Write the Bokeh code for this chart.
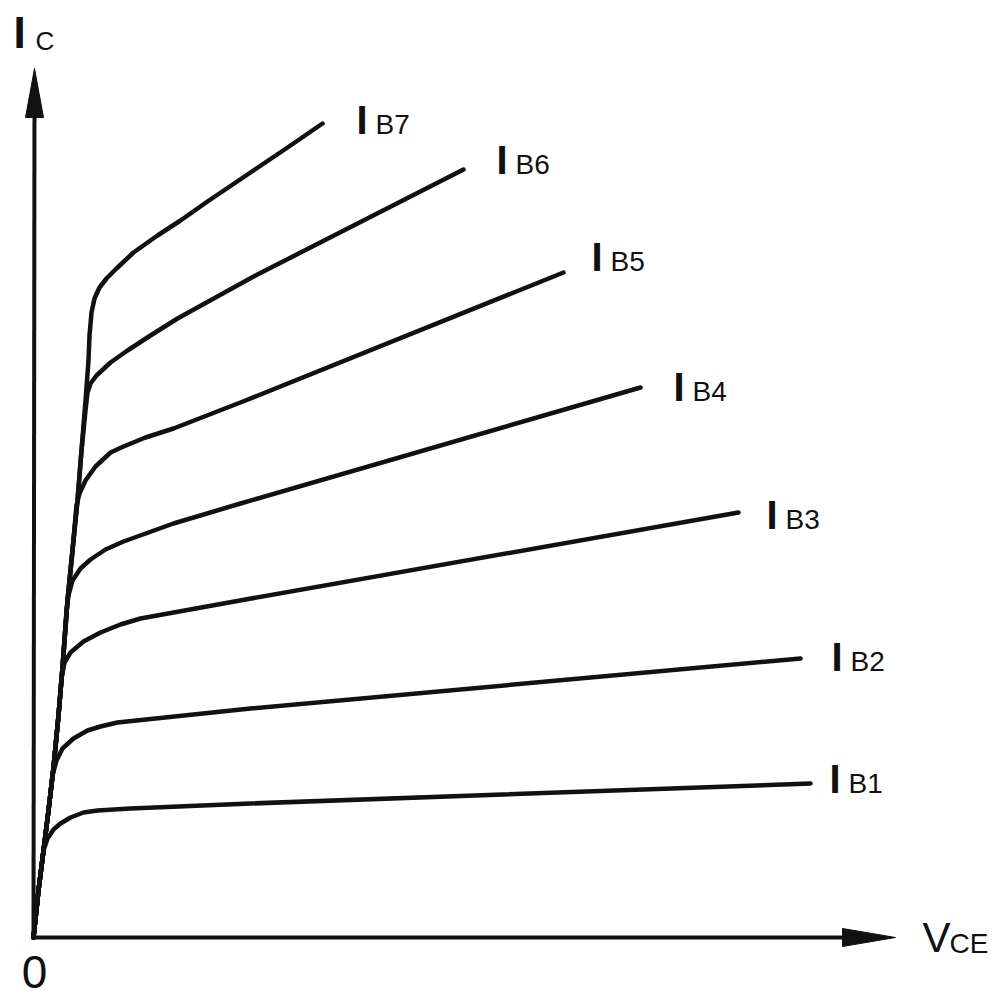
from bokeh.plotting import figure
from bokeh.models import ColumnDataSource, Range1d
from bokeh.embed import file_html
from bokeh.resources import INLINE
from bokeh.core.properties import value

# ---- data (arbitrary units) ----
# common steep "saturation" rise shared by every curve
BACK_VCE = [0, 0.5, 1.0, 1.5, 2.0, 2.5, 2.9, 3.4, 3.9, 4.4, 4.8, 5.2, 5.5]
BACK_IC = [0, 4.7, 8.7, 12.7, 17.0, 22.2, 27.0, 33.7, 38.7, 43.7, 48.7, 53.7, 57.7]

CURVE_SUBS = ["B1", "B2", "B3", "B4", "B5", "B6", "B7"]
BRANCH_AT = [3, 4, 6, 7, 9, 11, 13]  # backbone points before each curve bends away

IB1_VCE = [1.4, 2.0, 2.7, 3.7, 5.0, 6.4, 9.7, 21.7, 77.7]
IB1_IC = [9.9, 10.8, 11.4, 12.0, 12.5, 12.7, 12.9, 13.4, 15.4]
IB2_VCE = [1.9, 2.3, 2.9, 4.0, 5.4, 6.7, 8.4, 21.7, 76.7]
IB2_IC = [16.2, 17.7, 18.9, 19.9, 20.7, 21.1, 21.5, 22.9, 27.9]
IB3_VCE = [2.8, 3.1, 3.7, 5.0, 6.7, 8.7, 10.7, 21.2, 70.5]
IB3_IC = [25.9, 27.5, 28.5, 29.6, 30.5, 31.3, 31.9, 33.8, 42.5]
IB4_VCE = [3.3, 3.5, 3.9, 4.7, 5.7, 7.2, 9.0, 14.0, 20.7, 60.7]
IB4_IC = [32.7, 34.2, 35.7, 36.9, 37.8, 38.8, 39.6, 41.4, 43.4, 55.0]
IB5_VCE = [4.3, 4.6, 5.2, 6.2, 7.7, 9.0, 11.2, 14.0, 21.2, 53.0]
IB5_IC = [43.2, 44.4, 45.7, 47.1, 48.5, 49.1, 50.0, 50.9, 53.7, 66.5]
IB6_VCE = [5.2, 5.4, 5.7, 6.3, 7.7, 9.4, 11.7, 14.4, 22.2, 43.0]
IB6_IC = [52.7, 54.5, 55.4, 56.2, 57.5, 58.7, 60.2, 61.9, 66.2, 76.8]
IB7_VCE = [5.6, 5.8, 6.1, 6.6, 7.3, 8.3, 10.0, 12.4, 14.7, 17.4, 21.7, 25.7, 28.9]
IB7_IC = [60.2, 62.5, 63.9, 65.0, 65.9, 66.9, 68.5, 70.2, 71.7, 73.6, 76.5, 79.2, 81.4]

X_AXIS_END = 86.2
Y_AXIS_END = 86.9

# ---- layout / style ----
LABEL_DX = [23, 35, 32, 37, 32, 37, 38]    # px from curve end to "I"
LABEL_DY = [9, 12, 16, 13, -2, 4, 10]      # px from curve end to baseline
FONT = value("Liberation Sans")
INK = "#111111"
BASE_FIX = 0.35  # empirical baseline correction (fraction of font size)


def fix(dy, size):
    return dy - round(BASE_FIX * size)


knee_vce = [IB1_VCE, IB2_VCE, IB3_VCE, IB4_VCE, IB5_VCE, IB6_VCE, IB7_VCE]
knee_ic = [IB1_IC, IB2_IC, IB3_IC, IB4_IC, IB5_IC, IB6_IC, IB7_IC]
xs = [BACK_VCE[:n] + k for n, k in zip(BRANCH_AT, knee_vce)]
ys = [BACK_IC[:n] + k for n, k in zip(BRANCH_AT, knee_ic)]

p = figure(width=993, height=999,
           x_range=Range1d(-3.3, 96.0), y_range=Range1d(-6.2, 93.7),
           output_backend="svg", toolbar_location=None, min_border=0,
           x_axis_location=None, y_axis_location=None)
p.grid.grid_line_color = None
p.outline_line_color = None
p.background_fill_color = "white"
p.border_fill_color = "white"

# axes
p.line([0, X_AXIS_END - 3], [0, 0], line_width=4, line_color=INK)
p.line([0, 0.1], [0, Y_AXIS_END - 3], line_width=4, line_color=INK)
hl_x, hw = 5.3, 0.9
hl_y = 4.9
p.patches(
    xs=[[X_AXIS_END, X_AXIS_END - hl_x, X_AXIS_END - hl_x],
        [0.1, 0.1 - hw, 0.1 + hw]],
    ys=[[0, hw, -hw],
        [Y_AXIS_END, Y_AXIS_END - hl_y, Y_AXIS_END - hl_y]],
    fill_color=INK, line_color=INK, line_width=1)

# curves
src = ColumnDataSource(dict(xs=xs, ys=ys))
p.multi_line("xs", "ys", source=src, line_width=4.5, line_color=INK,
             line_cap="round", line_join="round")

# curve labels
lab = ColumnDataSource(dict(
    x=[c[-1] for c in xs], y=[c[-1] for c in ys],
    big=["I"] * len(xs), sub=CURVE_SUBS,
    dx_i=[d - 4 for d in LABEL_DX], dx_s=[d + 15 for d in LABEL_DX],
    dy_i=[fix(d, 40) for d in LABEL_DY], dy_s=[fix(d + 1, 28) for d in LABEL_DY]))
p.text("x", "y", text="big", source=lab, x_offset="dx_i", y_offset="dy_i",
       text_font=FONT, text_font_size="40px", text_font_style="bold", text_color=INK,
       text_baseline="alphabetic", text_align="left")
p.text("x", "y", text="sub", source=lab, x_offset="dx_s", y_offset="dy_s",
       text_font=FONT, text_font_size="28px", text_color=INK,
       text_baseline="alphabetic", text_align="left")

# axis titles
p.text([0], [Y_AXIS_END], text=["I"], x_offset=-20, y_offset=fix(-21, 44),
       text_font=FONT, text_font_size="44px", text_font_style="bold", text_color=INK,
       text_baseline="alphabetic")
p.text([0], [Y_AXIS_END], text=["C"], x_offset=2, y_offset=fix(-19, 26),
       text_font=FONT, text_font_size="26px", text_color=INK, text_baseline="alphabetic")
p.text([X_AXIS_END], [0], text=["V"], x_offset=27, y_offset=fix(15, 42),
       text_font=FONT, text_font_size="42px", text_color=INK, text_baseline="alphabetic")
p.text([X_AXIS_END], [0], text=["CE"], x_offset=54, y_offset=fix(16, 28),
       text_font=FONT, text_font_size="28px", text_color=INK, text_baseline="alphabetic")
p.text([0], [0], text=["0"], x_offset=1, y_offset=fix(50, 46),
       text_font=FONT, text_font_size="46px", text_color=INK,
       text_baseline="alphabetic", text_align="center")

open("out.html", "w").write(file_html(p, INLINE))
